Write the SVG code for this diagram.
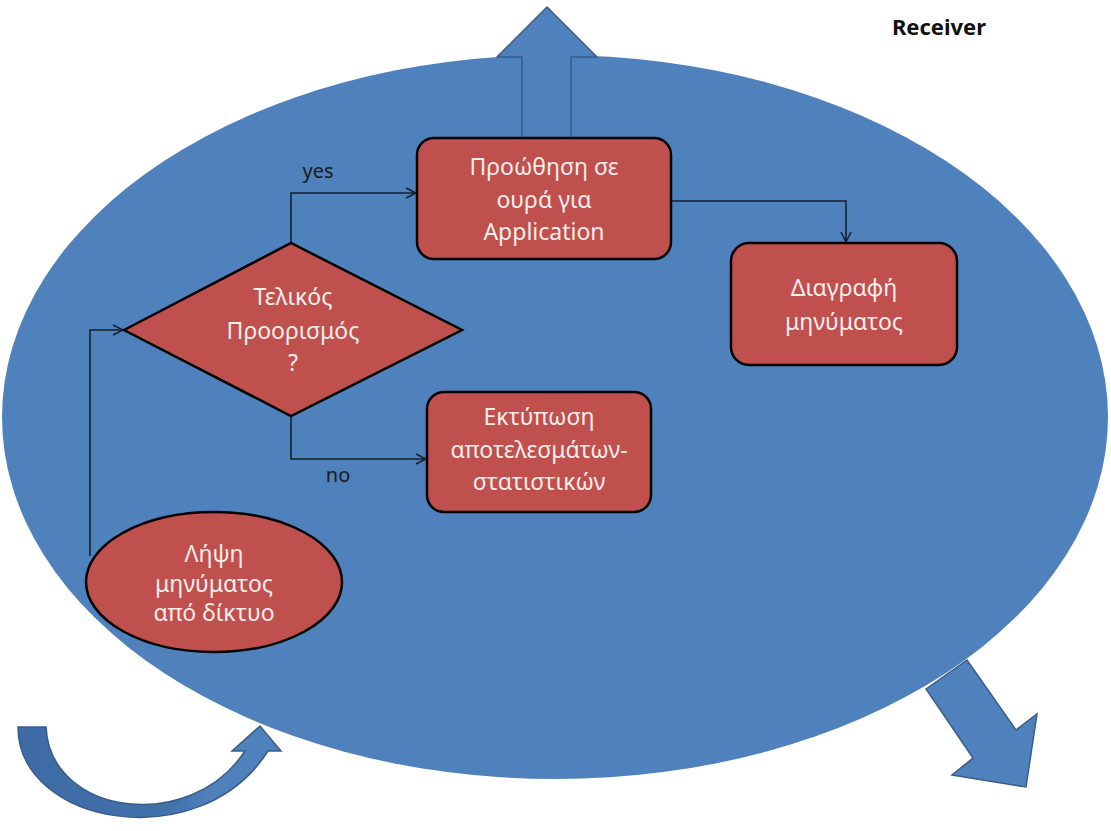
<svg xmlns="http://www.w3.org/2000/svg" width="1111" height="831" viewBox="0 0 1111 831">
  <style>
    .blk { fill: #4F81BD; stroke: #385D8A; stroke-width: 1.5; }
    .node { fill: #C0504D; stroke: #000; stroke-width: 2.5; }
    .ntxt { font-family: "Noto Sans", "Open Sans", sans-serif; font-size: 23px; fill: #F7EDEC; text-anchor: middle; }
    .lbl { font-family: "Noto Sans", "Open Sans", sans-serif; font-size: 20px; fill: #1a1a1a; text-anchor: middle; }
    .conn { fill: none; stroke: #15202c; stroke-width: 1.6; }
  </style>
  <defs>
    <marker id="arr" viewBox="0 0 12 12" refX="11" refY="6" markerWidth="12" markerHeight="12" markerUnits="userSpaceOnUse" orient="auto">
      <path d="M1,1 L11,6 L1,11" fill="none" stroke="#15202c" stroke-width="1.5"/>
    </marker>
    <linearGradient id="curveShade" x1="18" y1="0" x2="281" y2="0" gradientUnits="userSpaceOnUse">
      <stop offset="0" stop-color="#3E6BA5"/>
      <stop offset="0.55" stop-color="#4170AA"/>
      <stop offset="0.75" stop-color="#4F81BD"/>
      <stop offset="1" stop-color="#4F81BD"/>
    </linearGradient>
  </defs>

  <rect width="1111" height="831" fill="#fff"/>

  <!-- receiver body -->
  <g id="receiver">
    <ellipse cx="555" cy="417" rx="553" ry="362" fill="#4F81BD"/>
    <text x="939" y="35" font-family="Noto Sans, Open Sans, sans-serif" font-size="22" font-weight="bold" fill="#111" text-anchor="middle">Receiver</text>
  </g>

  <!-- outgoing block arrows -->
  <g id="arrow-up">
    <path class="blk" d="M522,138 L522,57 L497,57 L547,7 L597,57 L571,57 L571,138"/>
  </g>
  <g id="arrow-down">
    <path class="blk" d="M926,689 L967,660 L1016,730 L1037,714 L1026,787 L952,775 L973,758 Z"/>
  </g>
  <g id="arrow-curved">
    <path class="blk" fill="url(#curveShade)" style="fill:url(#curveShade)" d="M18,727 L46,727 C50,815 190,835 245,751 L232,751 L260,726 L281,751 L268,751 C200,858 18,825 18,727 Z"/>
  </g>

  <!-- connectors -->
  <g id="connectors">
    <polyline class="conn" points="291,243 291,193 416,193" marker-end="url(#arr)"/>
    <polyline class="conn" points="291,416 291,459 426,459" marker-end="url(#arr)"/>
    <polyline class="conn" points="90,556 90,330 123,330" marker-end="url(#arr)"/>
    <polyline class="conn" points="671,201 846,201 846,242" marker-end="url(#arr)"/>
    <text class="lbl" x="318" y="178">yes</text>
    <text class="lbl" x="338" y="482">no</text>
  </g>

  <!-- flow nodes -->
  <g id="forward">
    <rect class="node" x="417" y="138" width="254" height="121" rx="17"/>
    <text class="ntxt" x="544" y="175">Προώθηση σε</text>
    <text class="ntxt" x="544" y="208">ουρά για</text>
    <text class="ntxt" x="544" y="240">Application</text>
  </g>
  <g id="delete">
    <rect class="node" x="731" y="243" width="226" height="122" rx="18"/>
    <text class="ntxt" x="844" y="296">Διαγραφή</text>
    <text class="ntxt" x="844" y="330">μηνύματος</text>
  </g>
  <g id="decision">
    <polygon class="node" points="124,330 291,243 462,330 291,416"/>
    <text class="ntxt" x="293" y="305">Τελικός</text>
    <text class="ntxt" x="293" y="339">Προορισμός</text>
    <text class="ntxt" x="293" y="371">?</text>
  </g>
  <g id="print">
    <rect class="node" x="427" y="392" width="224" height="120" rx="17"/>
    <text class="ntxt" x="539" y="425">Εκτύπωση</text>
    <text class="ntxt" x="539" y="458">αποτελεσμάτων-</text>
    <text class="ntxt" x="539" y="490">στατιστικών</text>
  </g>
  <g id="receive">
    <ellipse class="node" cx="214" cy="582" rx="128" ry="70"/>
    <text class="ntxt" x="214" y="562">Λήψη</text>
    <text class="ntxt" x="214" y="592">μηνύματος</text>
    <text class="ntxt" x="214" y="621">από δίκτυο</text>
  </g>
</svg>
